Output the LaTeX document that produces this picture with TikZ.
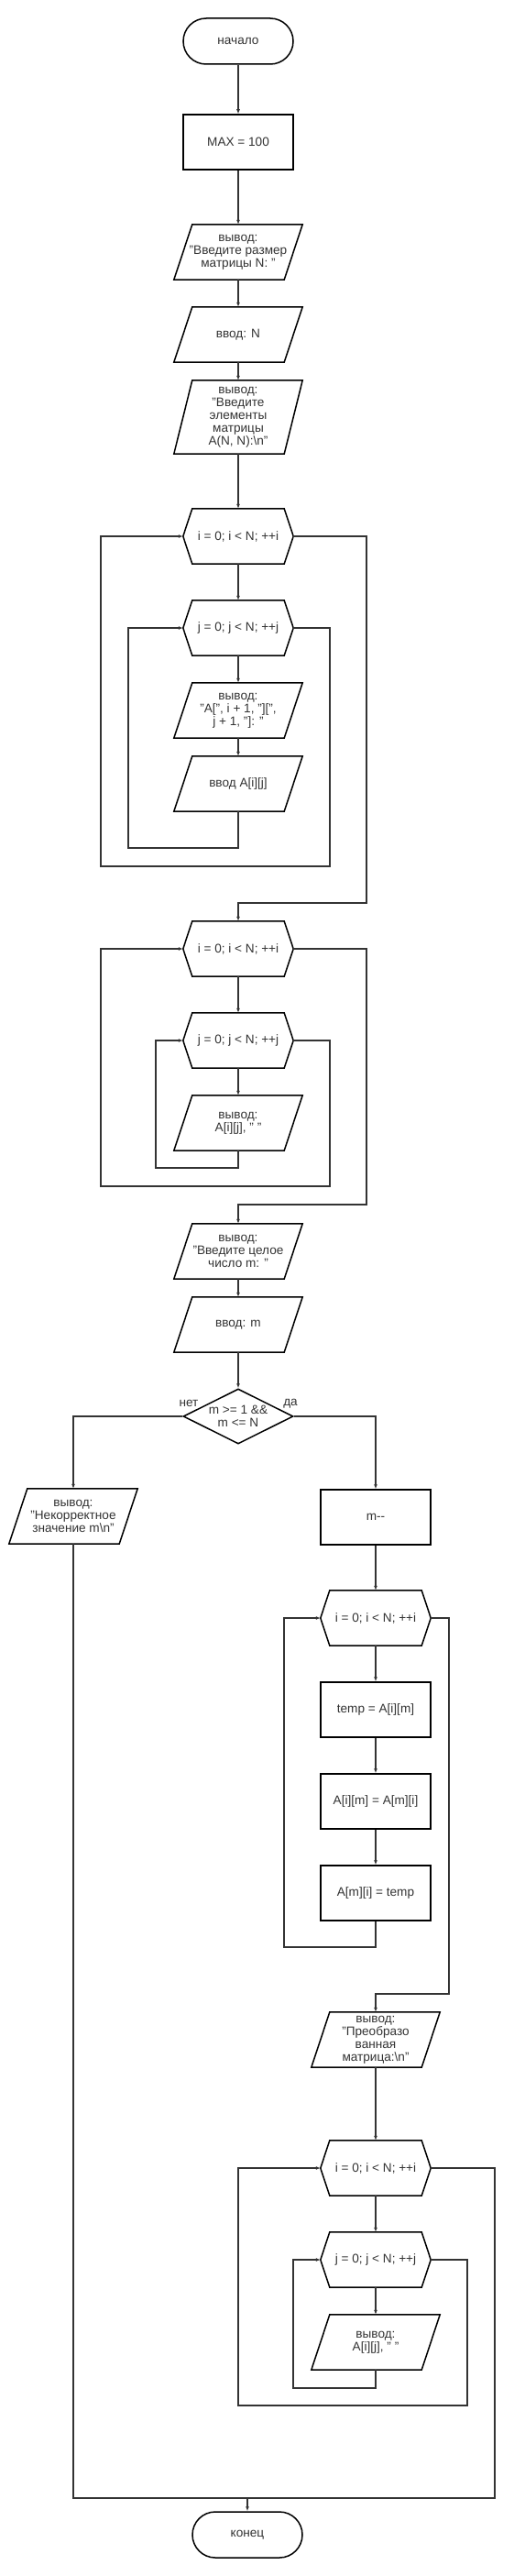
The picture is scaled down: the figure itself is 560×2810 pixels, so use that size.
\documentclass[tikz,border=0pt]{standalone}
\usepackage{fontspec}
\setmainfont{Liberation Sans}
\usetikzlibrary{arrows.meta,shapes.geometric}

\begin{document}
\begin{tikzpicture}[x=1pt,y=-1pt,>={Latex[length=5pt,width=4pt]},
    font=\fontsize{13.6}{14}\selectfont]
    \tikzstyle{every node}=[text=black!80, align=center, inner sep=0pt]
    \tikzstyle{block}=[draw=black, line width=1.5pt,
        minimum width=120pt, minimum height=60pt]
    \tikzstyle{term}=[block, rounded corners=25pt, minimum height=50pt]
    \tikzstyle{cond}=[block, diamond, aspect=2, inner sep=-2pt]
    \tikzstyle{io}=[minimum width=120pt, minimum height=60pt,
        append after command={\pgfextra{\draw[black, line width=1.5pt]
            ([xshift=10pt]\tikzlastnode.north west) -- ([xshift=10pt]\tikzlastnode.north east)
            -- ([xshift=-10pt]\tikzlastnode.south east) -- ([xshift=-10pt]\tikzlastnode.south west)
            -- cycle;}}]
    \tikzstyle{forloop}=[minimum width=120pt, minimum height=60pt,
        append after command={\pgfextra{\draw[black, line width=1.5pt]
            (\tikzlastnode.west) -- ([xshift=10pt]\tikzlastnode.north west)
            -- ([xshift=-10pt]\tikzlastnode.north east) -- (\tikzlastnode.east)
            -- ([xshift=-10pt]\tikzlastnode.south east) -- ([xshift=10pt]\tikzlastnode.south west)
            -- cycle;}}]
    \tikzstyle{conn}=[draw=black!80, line width=1.2pt]
    \useasboundingbox (0,0) rectangle (560,2810);

    % input of the matrix
    \node[term] (n0) at (260,45) {начало};
    \node[block] (n1) at (260,155) {MAX = 100};
    \node[io] (n2) at (260,275) {вывод:\\"Введите размер\\матрицы N: "};
    \node[io] (n3) at (260,365) {ввод: N};
    \node[io, minimum height=80pt] (n4) at (260,455)
        {вывод:\\"Введите\\элементы\\матрицы\\A(N, N):\textbackslash n"};
    \node[forloop] (n5) at (260,585) {i = 0; i < N; ++i};
    \node[forloop] (n6) at (260,685) {j = 0; j < N; ++j};
    \node[io] (n7) at (260,775) {вывод:\\"A[", i + 1, "][",\\j + 1, "]: "};
    \node[io] (n8) at (260,855) {ввод A[i][j]};

    % printing
    \node[forloop] (n9) at (260,1035) {i = 0; i < N; ++i};
    \node[forloop] (n10) at (260,1135) {j = 0; j < N; ++j};
    \node[io] (n11) at (260,1225) {вывод:\\A[i][j], " "};
    \node[io] (n12) at (260,1365) {вывод:\\"Введите целое\\число m: "};
    \node[io] (n13) at (260,1445) {ввод: m};
    \node[cond] (n14) at (260,1545) {m >= 1 \&\&\\m <= N};
    \node (lno) at (206,1531) {нет};
    \node (lyes) at (317,1531) {да};
    \node[io] (n15) at (80,1654) {вывод:\\"Некорректное\\значение m\textbackslash n"};

    % swapping
    \node[block] (n16) at (410,1655) {m-{}-};
    \node[forloop] (n17) at (410,1765) {i = 0; i < N; ++i};
    \node[block] (n18) at (410,1865) {temp = A[i][m]};
    \node[block] (n19) at (410,1965) {A[i][m] = A[m][i]};
    \node[block] (n20) at (410,2065) {A[m][i] = temp};
    \node[io] (n21) at (410,2225) {вывод:\\"Преобразо\\ванная\\матрица:\textbackslash n"};
    \node[forloop] (n22) at (410,2365) {i = 0; i < N; ++i};
    \node[forloop] (n23) at (410,2465) {j = 0; j < N; ++j};
    \node[io] (n24) at (410,2555) {вывод:\\A[i][j], " "};
    \coordinate (m1) at (270,2725);
    \node[term] (n25) at (270,2765) {конец};

    \path[conn, ->] (n0) edge (n1) (n1) edge (n2) (n2) edge (n3) (n3) edge (n4)
        (n4) edge (n5) (n5) edge (n6) (n6) edge (n7) (n7) edge (n8)
        (n9) edge (n10) (n10) edge (n11) (n12) edge (n13) (n13) edge (n14)
        (n16) edge (n17) (n17) edge (n18) (n18) edge (n19) (n19) edge (n20)
        (n21) edge (n22) (n22) edge (n23) (n23) edge (n24);

    \draw[conn, ->] (n8.south) -- (260,925) -| (140,685) -- (n6.west);
    \draw[conn, ->] (n6.east) -| (360,945) -| (110,585) -- (n5.west);
    \draw[conn, ->] (n5.east) -| (400,985) -| (n9.north);
    \draw[conn, ->] (n11.south) -- (260,1274) -| (170,1135) -- (n10.west);
    \draw[conn, ->] (n10.east) -| (360,1294) -| (110,1035) -- (n9.west);
    \draw[conn, ->] (n9.east) -| (400,1314) -| (n12.north);
    \draw[conn, ->] (n14.west) -| (n15.north);
    \draw[conn, ->] (n14.east) -| (n16.north);
    \draw[conn, ->] (n20.south) -- (410,2124) -| (310,1765) -- (n17.west);
    \draw[conn, ->] (n17.east) -| (490,2175) -| (n21.north);
    \draw[conn, ->] (n24.south) -- (410,2605) -| (320,2465) -- (n23.west);
    \draw[conn, ->] (n23.east) -| (510,2624) -| (260,2365) -- (n22.west);
    \draw[conn] (n22.east) -| (540,2725) -- (m1);
    \draw[conn, ->] (n15.south) |- (m1) -- (n25.north);
\end{tikzpicture}
\end{document}
